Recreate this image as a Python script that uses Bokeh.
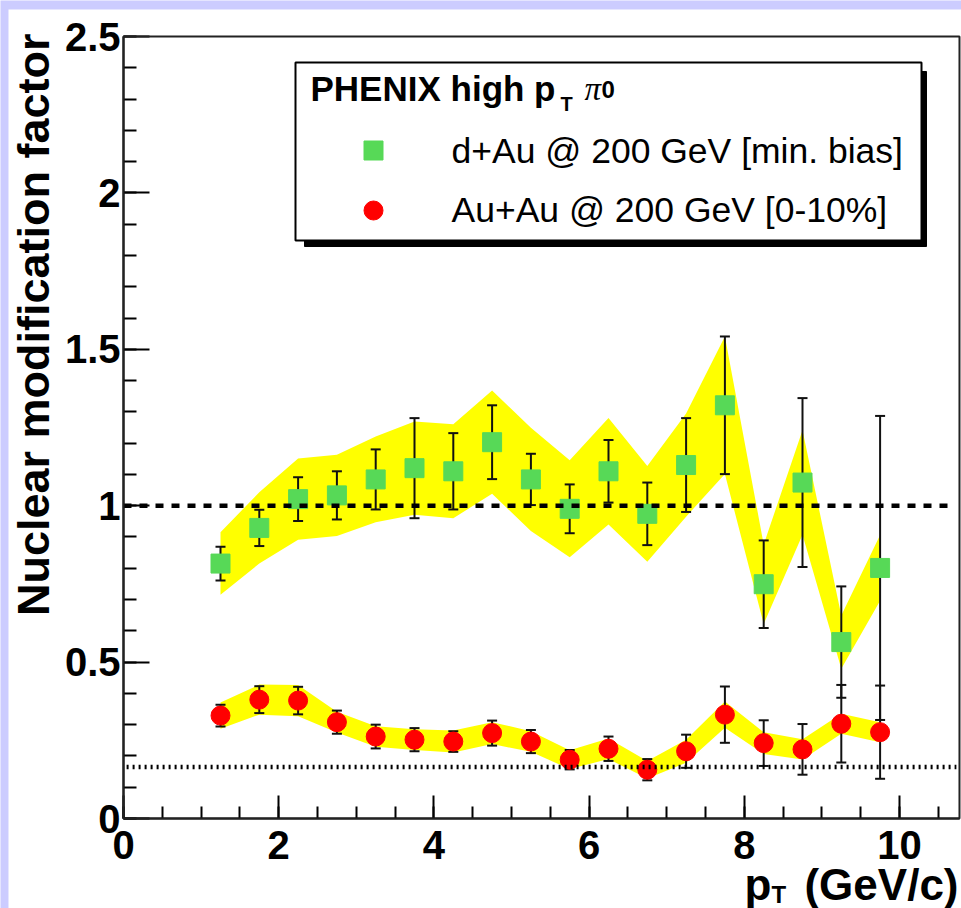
import math
from bokeh.plotting import figure
from bokeh.models import Range1d, FixedTicker, Label, BoxAnnotation, ColumnDataSource
from bokeh.embed import file_html
from bokeh.resources import INLINE

# ---------------- data ----------------
PT = [1.25, 1.75, 2.25, 2.75, 3.25, 3.75, 4.25, 4.75, 5.25,
      5.75, 6.25, 6.75, 7.25, 7.75, 8.25, 8.75, 9.25, 9.75]

DAU_RAA = [0.815, 0.929, 1.021, 1.033, 1.084, 1.120, 1.110, 1.203, 1.084,
           0.990, 1.110, 0.974, 1.130, 1.321, 0.749, 1.074, 0.564, 0.801]
DAU_STAT = [0.054, 0.058, 0.070, 0.077, 0.096, 0.160, 0.122, 0.118, 0.082,
            0.078, 0.100, 0.100, 0.150, 0.220, 0.140, 0.270, 0.178, 0.486]
DAU_SYS = [0.100, 0.114, 0.130, 0.130, 0.137, 0.149, 0.150, 0.165, 0.165,
           0.155, 0.170, 0.153, 0.165, 0.220, 0.127, 0.167, 0.085, 0.105]

AUAU_RAA = [0.329, 0.380, 0.377, 0.308, 0.262, 0.252, 0.246, 0.273, 0.246,
            0.188, 0.223, 0.156, 0.215, 0.332, 0.241, 0.221, 0.303, 0.276]
AUAU_STAT = [0.035, 0.043, 0.044, 0.037, 0.038, 0.037, 0.033, 0.040, 0.037,
             0.031, 0.039, 0.034, 0.053, 0.090, 0.073, 0.081, 0.124, 0.149]
AUAU_SYS = [0.042, 0.048, 0.050, 0.033, 0.033, 0.033, 0.035, 0.035, 0.033,
            0.030, 0.033, 0.028, 0.037, 0.042, 0.035, 0.032, 0.032, 0.032]

UNITY_LEVEL = [1.0]
NPART_LEVEL = [0.165]

X_AXIS_RANGE = (0.0, 10.773)
Y_AXIS_RANGE = (0.0, 2.5)
X_TICKS = [0, 2, 4, 6, 8, 10]
X_TICK_LABELS = ["0", "2", "4", "6", "8", "10"]
Y_TICKS = [0, 0.5, 1, 1.5, 2, 2.5]
Y_TICK_LABELS = ["0", "0.5", "1", "1.5", "2", "2.5"]

LEGEND_TITLE = "PHENIX high p"
LEGEND_TITLE_SUB = "T"
LEGEND_TITLE_PI = "\u03c0"
LEGEND_TITLE_SUP = "0"
DAU_LABEL = "d+Au @ 200 GeV [min. bias]"
AUAU_LABEL = "Au+Au @ 200 GeV [0-10%]"
Y_TITLE = "Nuclear modification factor"
X_TITLE_MAIN = "p"
X_TITLE_SUB = "T"
X_TITLE_UNIT = "(GeV/c)"

GREEN = "#57d957"
RED = "#ff0000"
YELLOW = "#ffff00"
PAD = "#ccccff"
FONT = "Liberation Sans"

# ---------------- layout ----------------
W, H = 961, 908
X0_PX, Y0_PX = 123.0, 818.0       # pixel position of data (0, 0)
PX_PER_X, PX_PER_Y = 77.6, 312.8  # pixels per data unit


def dx(px):
    return (px - X0_PX) / PX_PER_X


def dy(py):
    return (Y0_PX - py) / PX_PER_Y


def text_label(px, py_baseline, text, size, style="normal", font=FONT, align="left", angle=0.0):
    # Label anchored at its "bottom" (descent) edge; shift by the font descent so that
    # the text baseline falls at py_baseline (or at px for the rotated title).
    desc = 0.212 * size
    if angle:
        x, y = dx(px + desc), dy(py_baseline)
    else:
        x, y = dx(px), dy(py_baseline + desc)
    return Label(x=x, y=y, text=text, angle=angle, text_align=align, text_baseline="bottom",
                 text_font=font, text_font_style=style, text_font_size=f"{size}px",
                 text_color="black")


p = figure(width=W, height=H, x_range=Range1d(dx(0), dx(W)), y_range=Range1d(dy(H), dy(0)),
           output_backend="svg", toolbar_location=None, min_border=0,
           background_fill_color=PAD, border_fill_color=PAD, outline_line_color=None)
p.xgrid.visible = False
p.ygrid.visible = False

# white pad area (the canvas inside the lavender edge)
p.add_layout(BoxAnnotation(left=dx(8), right=dx(W + 2), top=dy(9), bottom=dy(H + 2),
                           fill_color="white", fill_alpha=1.0, line_color=None, level="underlay"))

# axes drawn at the data origin
p.xaxis.fixed_location = 0
p.yaxis.fixed_location = 0
p.xaxis.bounds = X_AXIS_RANGE
p.yaxis.bounds = Y_AXIS_RANGE
p.xaxis.ticker = FixedTicker(ticks=X_TICKS, minor_ticks=[i * 0.5 for i in range(22)])
p.yaxis.ticker = FixedTicker(ticks=Y_TICKS, minor_ticks=[i * 0.1 for i in range(26)])
p.xaxis.major_label_overrides = {t: l for t, l in zip(X_TICKS, X_TICK_LABELS)}
p.yaxis.major_label_overrides = {t: l for t, l in zip(Y_TICKS, Y_TICK_LABELS)}

for ax in (p.xaxis[0], p.yaxis[0]):
    ax.axis_line_width = 2
    ax.axis_line_color = "black"
    ax.major_tick_out = 0
    ax.minor_tick_out = 0
    ax.major_tick_line_width = 2
    ax.minor_tick_line_width = 2
    ax.major_tick_line_color = "black"
    ax.minor_tick_line_color = "black"
    ax.major_label_text_font = FONT
    ax.major_label_text_font_style = "bold"
    ax.major_label_text_font_size = "40px"
    ax.major_label_text_color = "black"
p.xaxis.major_label_standoff = 12
p.yaxis.major_label_standoff = 3
p.xaxis.major_tick_in = 23
p.xaxis.minor_tick_in = 12
p.yaxis.major_tick_in = 26
p.yaxis.minor_tick_in = 13

# frame box (top and right sides)
p.add_layout(BoxAnnotation(left=X_AXIS_RANGE[0], right=X_AXIS_RANGE[1],
                           bottom=Y_AXIS_RANGE[0], top=Y_AXIS_RANGE[1],
                           fill_color=None, fill_alpha=0, line_color="#222222",
                           line_width=2, line_alpha=1.0))

# ---------------- data sources ----------------
dau = ColumnDataSource(dict(
    x=PT, y=DAU_RAA,
    lo=[v - e for v, e in zip(DAU_RAA, DAU_STAT)],
    hi=[v + e for v, e in zip(DAU_RAA, DAU_STAT)],
    slo=[v - e for v, e in zip(DAU_RAA, DAU_SYS)],
    shi=[v + e for v, e in zip(DAU_RAA, DAU_SYS)],
))
auau = ColumnDataSource(dict(
    x=PT, y=AUAU_RAA,
    lo=[v - e for v, e in zip(AUAU_RAA, AUAU_STAT)],
    hi=[v + e for v, e in zip(AUAU_RAA, AUAU_STAT)],
    slo=[v - e for v, e in zip(AUAU_RAA, AUAU_SYS)],
    shi=[v + e for v, e in zip(AUAU_RAA, AUAU_SYS)],
))

# systematic bands
p.varea(x="x", y1="slo", y2="shi", source=dau, fill_color=YELLOW, fill_alpha=1.0)
p.varea(x="x", y1="slo", y2="shi", source=auau, fill_color=YELLOW, fill_alpha=1.0)

# statistical error bars
for src in (dau, auau):
    p.segment(x0="x", y0="lo", x1="x", y1="hi", source=src, line_color="#111111", line_width=2)
    p.scatter(x="x", y="lo", source=src, marker="dash", size=10, line_color="#111111", line_width=2)
    p.scatter(x="x", y="hi", source=src, marker="dash", size=10, line_color="#111111", line_width=2)

# markers
p.scatter(x="x", y="y", source=dau, marker="square", size=19,
          fill_color=GREEN, line_color=GREEN, line_width=1)
p.scatter(x="x", y="y", source=auau, marker="circle", size=19,
          fill_color=RED, line_color=RED, line_width=1)

# reference lines across the axis range
p.segment(x0=[X_AXIS_RANGE[0]], x1=[X_AXIS_RANGE[1] - 0.08], y0=UNITY_LEVEL, y1=UNITY_LEVEL,
          line_color="black", line_width=4.5, line_dash="8 8")
p.segment(x0=[X_AXIS_RANGE[0] + 0.04], x1=[X_AXIS_RANGE[1] - 0.04], y0=NPART_LEVEL, y1=NPART_LEVEL,
          line_color="black", line_width=4.5, line_dash="2 4")

# ---------------- legend (ROOT style box with shadow) ----------------
p.add_layout(BoxAnnotation(left=dx(304), right=dx(926), top=dy(71), bottom=dy(246),
                           fill_color="black", fill_alpha=1.0, line_color="black", line_alpha=1.0))
p.add_layout(BoxAnnotation(left=dx(295), right=dx(921), top=dy(62), bottom=dy(240),
                           fill_color="white", fill_alpha=1.0, line_color="black",
                           line_width=2, line_alpha=1.0))

p.add_layout(text_label(310, 100, LEGEND_TITLE, 35, "bold"))
p.add_layout(text_label(560, 110, LEGEND_TITLE_SUB, 20, "bold"))
p.add_layout(text_label(584, 100, LEGEND_TITLE_PI, 33, "italic", font="Liberation Serif"))
p.add_layout(text_label(601, 92, LEGEND_TITLE_SUP, 24, "bold"))

p.scatter(x=[dx(373)], y=[dy(150)], marker="square", size=19, fill_color=GREEN,
          line_color=GREEN, level="overlay")
p.scatter(x=[dx(373)], y=[dy(210)], marker="circle", size=19, fill_color=RED,
          line_color=RED, level="overlay")
p.add_layout(text_label(451, 163, DAU_LABEL, 35.5))
p.add_layout(text_label(451, 222, AUAU_LABEL, 35.5))

# ---------------- axis titles ----------------
p.add_layout(text_label(49, 33, Y_TITLE, 45, "bold", align="right", angle=math.pi / 2))
p.add_layout(text_label(958, 899, X_TITLE_UNIT, 44, "bold", align="right"))
p.add_layout(text_label(744, 899, X_TITLE_MAIN, 44, "bold"))
p.add_layout(text_label(771, 902, X_TITLE_SUB, 24, "bold"))

open("out.html", "w").write(file_html(p, INLINE))
